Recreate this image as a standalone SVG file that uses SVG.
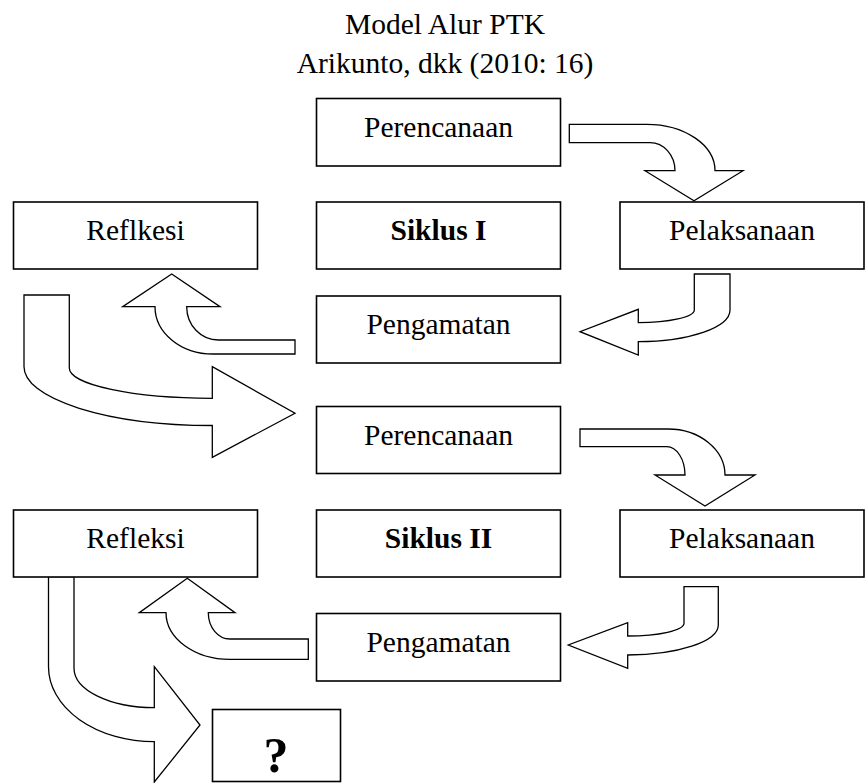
<svg xmlns="http://www.w3.org/2000/svg" width="866" height="783" viewBox="0 0 866 783">
<style>
.box{fill:#fff;stroke:#000;stroke-width:1.6}
.arr{fill:#fff;stroke:#000;stroke-width:1.3;stroke-linejoin:miter}
text{font-family:"Liberation Serif","Times New Roman",serif;font-size:29.5px;fill:#000;text-anchor:middle}
.b{font-weight:bold}
</style>
<rect width="866" height="783" fill="#fff"/>
<g id="title">
<text x="445" y="34">Model Alur PTK</text>
<text x="445" y="73">Arikunto, dkk (2010: 16)</text>
</g>
<g id="connectors">
<path class="arr" d="M569.3,124.3 H646.7 A68.3,46.4 0 0 1 715,170.7 H743 L694,200.7 L645,170.7 H675 A25,28 0 0 0 650,142.7 H569.3 Z"/>
<path class="arr" d="M694.3,274 H730 V310 A91.7,31.7 0 0 1 638.3,341.7 V355 L580,331.7 L638.3,309.3 V322.7 A56,12.7 0 0 0 694.3,310 Z"/>
<path class="arr" d="M295,340 H218.3 A31.6,33.3 0 0 1 186.7,306.7 H220 L171.7,274 L122.7,306.7 H155 A58,47.3 0 0 0 213,354 H295 Z"/>
<path class="arr" d="M24,295 H69.3 V368 A143,30.3 0 0 0 212.3,398.3 V366.7 L295,413.3 L212.3,457.3 V425.5 A188.3,58.8 0 0 1 24,366.7 Z"/>
<path class="arr" d="M580,429 H668 A57,46 0 0 1 725,475 H755 L705,506 L655,475 H685 A18.3,28.3 0 0 0 666.7,446.7 H580 Z"/>
<path class="arr" d="M684,586.7 H718.3 V625 A90.6,30 0 0 1 627.7,655 V668.3 L568.3,645 L627.7,622.7 V636 A56.3,12.7 0 0 0 684,623.3 Z"/>
<path class="arr" d="M308.3,639 H230 A21.7,26.3 0 0 1 208.3,612.7 H235 L187.3,578.3 L139.3,612.7 H166 A64,46.7 0 0 0 230,659.3 H308.3 Z"/>
<path class="arr" d="M48.5,576.7 H74 V668.3 A80.3,39.4 0 0 0 154.3,707.7 V666.7 L200,725 L154.3,782 V741.7 A105.8,75 0 0 1 48.5,666.7 Z"/>
</g>
<g id="perencanaan1"><rect class="box" x="316.5" y="98.5" width="244" height="67.5"/><text x="438.5" y="137">Perencanaan</text></g>
<g id="refleksi1"><rect class="box" x="13.5" y="202" width="244" height="67"/><text x="135.5" y="240">Reflkesi</text></g>
<g id="siklus1"><rect class="box" x="316.5" y="202" width="244" height="67"/><text class="b" x="438.5" y="240">Siklus I</text></g>
<g id="pelaksanaan1"><rect class="box" x="620" y="202" width="244" height="67"/><text x="742" y="240">Pelaksanaan</text></g>
<g id="pengamatan1"><rect class="box" x="316.5" y="296" width="244" height="67"/><text x="438.5" y="334">Pengamatan</text></g>
<g id="perencanaan2"><rect class="box" x="316.5" y="406.5" width="244" height="67"/><text x="438.5" y="444.5">Perencanaan</text></g>
<g id="refleksi2"><rect class="box" x="13.5" y="510" width="244" height="67"/><text x="135.5" y="548">Refleksi</text></g>
<g id="siklus2"><rect class="box" x="316.5" y="510" width="244" height="67"/><text class="b" x="438.5" y="548">Siklus II</text></g>
<g id="pelaksanaan2"><rect class="box" x="620" y="510" width="244" height="67"/><text x="742" y="548">Pelaksanaan</text></g>
<g id="pengamatan2"><rect class="box" x="316.5" y="613.5" width="244" height="67.5"/><text x="438.5" y="651.5">Pengamatan</text></g>
<g id="question"><rect class="box" x="212.5" y="709.5" width="128" height="72"/><text class="b" x="276" y="772" style="font-size:50px">?</text></g>
</svg>
